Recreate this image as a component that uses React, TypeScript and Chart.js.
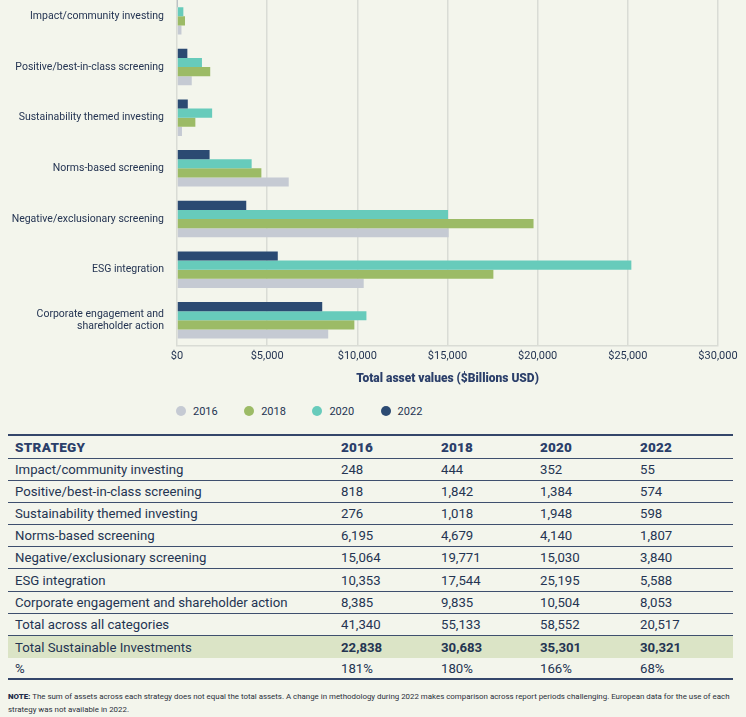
import React, { useEffect, useRef } from "react";
import { Chart, registerables } from "chart.js";

Chart.register(...registerables);

// ---------- data ----------
const years = ["2016", "2018", "2020", "2022"];

const strategies = [
  "Impact/community investing",
  "Positive/best-in-class screening",
  "Sustainability themed investing",
  "Norms-based screening",
  "Negative/exclusionary screening",
  "ESG integration",
  "Corporate engagement and shareholder action",
];

const chartLabels: (string | string[])[] = [
  "Impact/community investing",
  "Positive/best-in-class screening",
  "Sustainability themed investing",
  "Norms-based screening",
  "Negative/exclusionary screening",
  "ESG integration",
  ["Corporate engagement and", "shareholder action"],
];

const values2016 = [248, 818, 276, 6195, 15064, 10353, 8385];
const values2018 = [444, 1842, 1018, 4679, 19771, 17544, 9835];
const values2020 = [352, 1384, 1948, 4140, 15030, 25195, 10504];
const values2022 = [55, 574, 598, 1807, 3840, 5588, 8053];

const totalAcross = [41340, 55133, 58552, 20517];
const totalSustainable = [22838, 30683, 35301, 30321];
const percentOfTotal = ["181%", "180%", "166%", "68%"];

const xMin = 0;
const xMax = 30000;
const xStep = 5000;

const axisTitle = "Total asset values ($Billions USD)";
const noteLine1 =
  "The sum of assets across each strategy does not equal the total assets. A change in methodology during 2022 makes comparison across report periods challenging.  European data for the use of each";
const noteLine2 = "strategy was not available in 2022.";

// ---------- styles ----------
const colors = ["#c5cad3", "#9cbb66", "#67cbbb", "#2b4a72"];
const bg = "#f3f5ec";
const gridColor = "#d9dcd5";
const navyText = "#243452";
const fontFamily = "Roboto, 'Noto Sans', sans-serif";

const fmt = (n: number) => n.toLocaleString("en-US");

function BarChart() {
  const ref = useRef<HTMLCanvasElement>(null);
  useEffect(() => {
    const seriesValues = [values2016, values2018, values2020, values2022];
    const order = [3, 2, 1, 0];
    const chart = new Chart(ref.current!, {
      type: "bar",
      data: {
        labels: chartLabels,
        datasets: order.map((i) => ({
          label: years[i],
          data: seriesValues[i],
          backgroundColor: colors[i],
          borderWidth: 0,
        })),
      },
      options: {
        indexAxis: "y",
        responsive: false,
        animation: false,
        layout: { padding: { top: 0, right: 28, bottom: 0, left: 0 } },
        datasets: { bar: { categoryPercentage: 0.72, barPercentage: 1 } },
        plugins: { legend: { display: false }, tooltip: { enabled: false } },
        scales: {
          x: {
            type: "linear",
            min: xMin,
            max: xMax,
            ticks: {
              stepSize: xStep,
              callback: (v: any) => "$" + fmt(Number(v)),
              color: navyText,
              font: { family: fontFamily, size: 11 },
              padding: 4,
              maxRotation: 0,
            },
            grid: { color: gridColor, lineWidth: 1.5, drawTicks: false },
            border: { color: gridColor, width: 1.5 },
            title: {
              display: true,
              text: axisTitle,
              color: "#2b3f6a",
              font: { family: fontFamily, size: 12, weight: "900" },
              padding: { top: 0, bottom: 5 },
            },
            afterFit: (s: any) => {
              s.height = 45.3;
              s.paddingLeft = 0;
              s.paddingRight = 0;
            },
          },
          y: {
            grid: { display: false, drawTicks: false },
            border: { display: false },
            ticks: {
              color: navyText,
              font: { family: fontFamily, size: 10.5, lineHeight: 1.2 },
              padding: 13,
              autoSkip: false,
            },
            afterFit: (s: any) => {
              s.width = 177;
              s.paddingTop = 0;
              s.paddingBottom = 0;
            },
          },
        },
      } as any,
    });
    return () => chart.destroy();
  }, []);
  return (
    <canvas
      ref={ref}
      width={746}
      height={400}
      style={{ position: "absolute", left: 0, top: -9.4, width: 746, height: 400 }}
    />
  );
}

function Legend() {
  return (
    <>
      {years.map((y, i) => (
        <div
          key={y}
          style={{
            position: "absolute",
            top: 404,
            left: 176 + i * 68.2,
            height: 14,
            display: "flex",
            alignItems: "center",
            font: `11px ${fontFamily}`,
            color: navyText,
          }}
        >
          <span
            style={{
              width: 10,
              height: 10,
              borderRadius: "50%",
              background: colors[i],
              display: "inline-block",
              marginRight: 7,
            }}
          />
          {y}
        </div>
      ))}
    </>
  );
}

function Table() {
  const rowH = 22.2;
  const cols = [333, 100, 99, 100, 93];
  const cell = (content: React.ReactNode, w: number, extra: React.CSSProperties = {}) => (
    <div style={{ width: w, paddingLeft: 0, boxSizing: "border-box", whiteSpace: "nowrap", ...extra }}>
      {content}
    </div>
  );
  const rowStyle = (extra: React.CSSProperties = {}): React.CSSProperties => ({
    display: "flex",
    alignItems: "center",
    height: rowH,
    boxSizing: "border-box",
    borderBottom: "1px solid #3e4f6e",
    ...extra,
  });
  const byYear = [values2016, values2018, values2020, values2022];
  return (
    <div
      style={{
        position: "absolute",
        top: 434,
        left: 8,
        width: 725,
        font: `13.2px ${fontFamily}`,
        color: navyText,
        borderTop: "2px solid #34466a",
      }}
    >
      <div style={rowStyle({ height: rowH + 0.3, fontWeight: 900, fontSize: 13.5, color: "#2b3f6a" })}>
        {cell("STRATEGY", cols[0], { paddingLeft: 7, letterSpacing: 0.3 })}
        {years.map((y, i) => cell(y, cols[i + 1], { letterSpacing: 0.2 }))}
      </div>
      {strategies.map((s, r) => (
        <div key={s} style={rowStyle()}>
          {cell(s, cols[0], { paddingLeft: 7 })}
          {byYear.map((arr, i) => cell(fmt(arr[r]), cols[i + 1]))}
        </div>
      ))}
      <div style={rowStyle()}>
        {cell("Total across all categories", cols[0], { paddingLeft: 7 })}
        {totalAcross.map((v, i) => cell(fmt(v), cols[i + 1]))}
      </div>
      <div style={rowStyle({ background: "#dbe4c6", borderBottom: "none" })}>
        {cell("Total Sustainable Investments", cols[0], { paddingLeft: 7 })}
        {totalSustainable.map((v, i) => cell(fmt(v), cols[i + 1], { fontWeight: 700 }))}
      </div>
      <div style={rowStyle({ borderBottom: "2px solid #34466a" })}>
        {cell("%", cols[0], { paddingLeft: 7 })}
        {percentOfTotal.map((v, i) => cell(v, cols[i + 1]))}
      </div>
    </div>
  );
}

function Note() {
  return (
    <div
      style={{
        position: "absolute",
        top: 691,
        left: 8,
        width: 735,
        font: `7.9px ${fontFamily}`,
        lineHeight: "12.5px",
        color: "#2a2f3a",
        whiteSpace: "nowrap",
      }}
    >
      <b style={{ color: "#1f2d4a", fontWeight: 900 }}>NOTE:</b> {noteLine1}
      <br />
      {noteLine2}
    </div>
  );
}

export default function App() {
  return (
    <div
      style={{
        position: "absolute",
        left: 0,
        top: 0,
        width: 746,
        height: 717,
        background: bg,
        overflow: "hidden",
      }}
    >
      <BarChart />
      <Legend />
      <Table />
      <Note />
    </div>
  );
}
